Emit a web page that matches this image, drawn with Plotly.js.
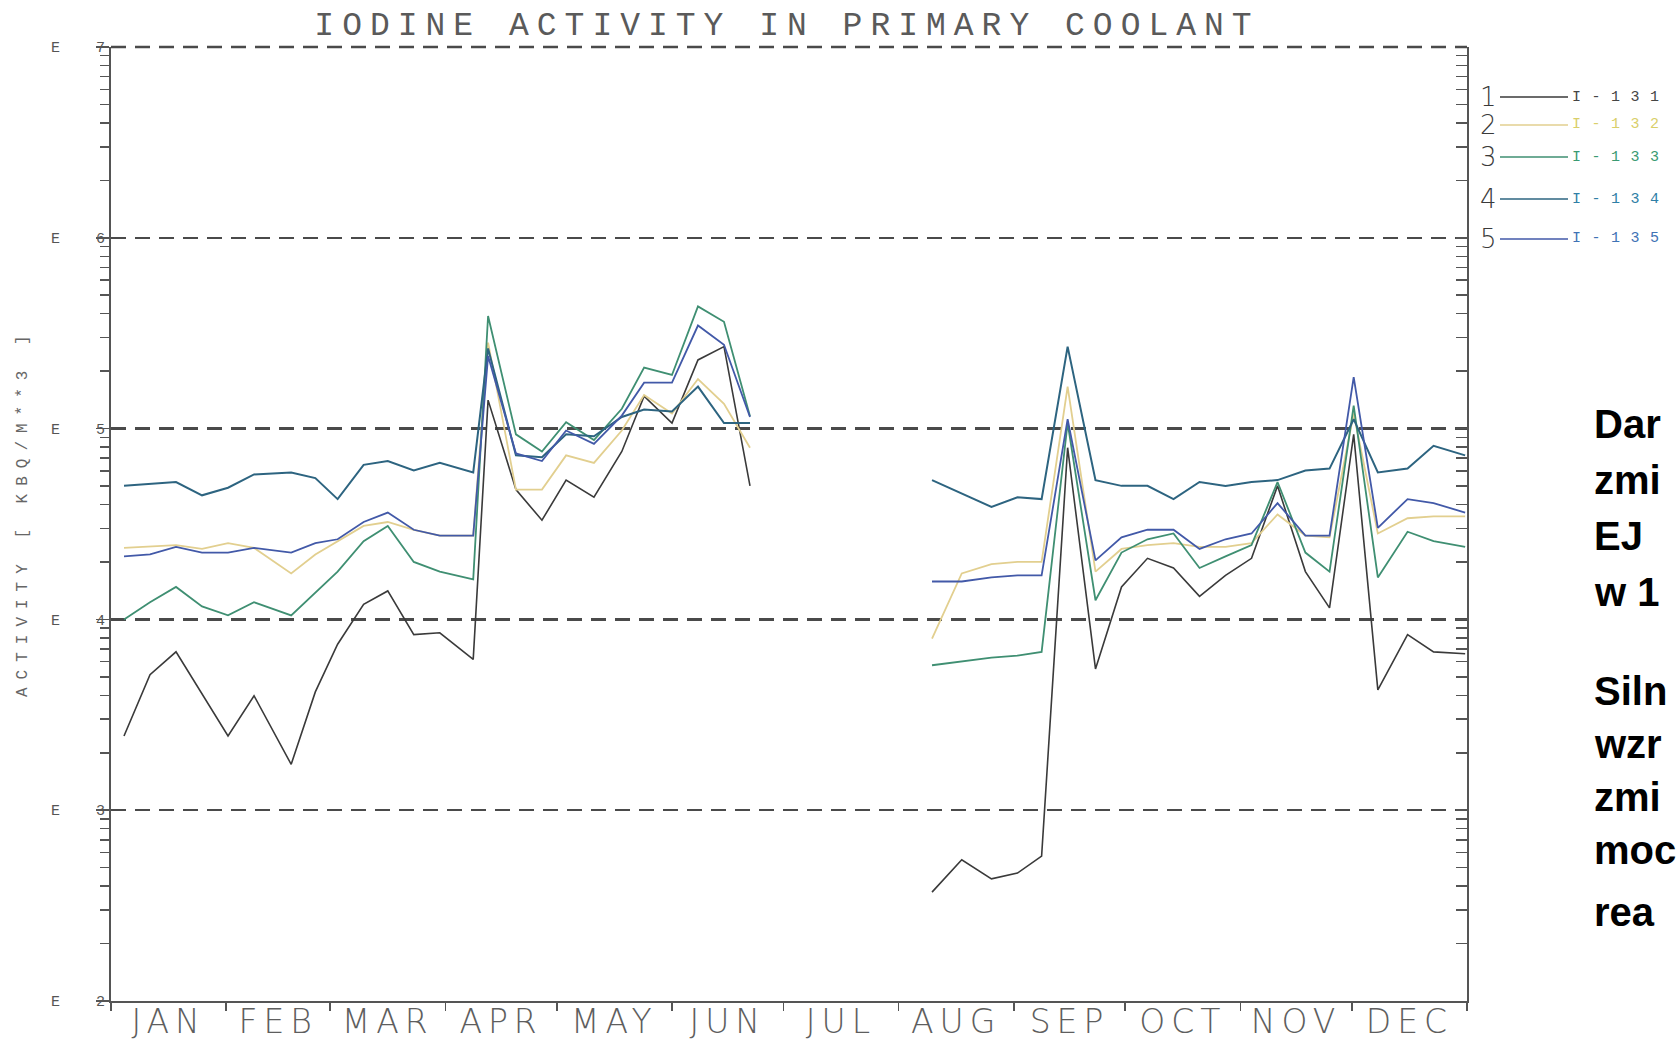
<!DOCTYPE html>
<html>
<head>
<meta charset="utf-8">
<script src="https://cdn.plot.ly/plotly-3.0.1.min.js"></script>
<style>
  html, body { margin: 0; padding: 0; background: #fff; }
  #chart { width: 1679px; height: 1041px; }
  .gtitle { letter-spacing: 8px; }
  .x2tick text { letter-spacing: 6px; }
  .annotation[data-index="0"] text { letter-spacing: 8px; }
  .annotation[data-index="1"] text,
  .annotation[data-index="2"] text,
  .annotation[data-index="3"] text,
  .annotation[data-index="4"] text,
  .annotation[data-index="5"] text { letter-spacing: 10.5px; }
</style>
</head>
<body>
<div id="chart"></div>
<script>
// Sampling days (day of year) for the two measurement campaigns
const daysFirstHalf  = [3.5, 10.5, 17.5, 24.5, 31.5, 38.5, 48.5, 55, 61, 68, 74.5, 81.5, 88.5,
                        97.5, 101.5, 109, 116, 122.5, 130, 137.5, 143.5, 151, 158, 165, 172];
const daysSecondHalf = [221, 229, 237, 244, 250.5, 257.5, 265, 272, 279, 286, 293, 300, 307,
                        314, 321.5, 328, 334.5, 341, 349, 356, 364.5];

// Activity in kBq/m3
const i131First  = [2450, 5130, 6760, 4070, 2450, 3980, 1740, 4170, 7410, 12000, 14100, 8320, 8510,
                    6170, 141000, 47900, 33100, 53700, 43700, 75900, 148000, 107000, 229000, 269000, 50100];
const i131Second = [372, 550, 437, 468, 575, 79400, 5500, 14800, 20900, 18600, 13200, 17000, 20900,
                    50100, 17800, 11500, 93300, 4270, 8320, 6760, 6610];

const i132First  = [23700, 24000, 24500, 23400, 25100, 23700, 17400, 21900, 25700, 30900, 32400, 29500, 27500,
                    27500, 282000, 47900, 47900, 72400, 66100, 97700, 150000, 120000, 182000, 135000, 79400];
const i132Second = [7940, 17400, 19500, 20000, 20000, 166000, 17800, 23400, 24500, 25100, 24000, 24000, 25100,
                    35500, 27500, 26900, 120000, 28200, 33900, 34700, 34700];

const i133First  = [10000, 12300, 14800, 11700, 10500, 12300, 10500, 13800, 17800, 25700, 30900, 20000, 17800,
                    16200, 389000, 93300, 75900, 108000, 87100, 127000, 209000, 191000, 437000, 363000, 116000];
const i133Second = [5750, 6030, 6310, 6460, 6760, 107000, 12600, 22400, 26300, 28200, 18600, 21400, 24500,
                    52500, 22400, 17800, 132000, 16600, 28800, 25700, 24000];

const i134First  = [50100, 51300, 52500, 44700, 49000, 57500, 58900, 55000, 42700, 64600, 67600, 60300, 66100,
                    58900, 263000, 72400, 70800, 93300, 91200, 115000, 126000, 123000, 166000, 107000, 107000];
const i134Second = [53700, 45700, 38900, 43700, 42700, 269000, 53700, 50100, 50100, 42700, 52500, 50100, 52500,
                    53700, 60300, 61700, 112000, 58900, 61700, 81300, 72400];

const i135First  = [21400, 21900, 24000, 22400, 22400, 23700, 22400, 25100, 26300, 32400, 36300, 29500, 27500,
                    27500, 240000, 74100, 67600, 97700, 83200, 117000, 174000, 174000, 347000, 275000, 115000];
const i135Second = [15800, 15800, 16600, 17000, 17000, 112000, 20400, 26900, 29500, 29500, 23400, 26300, 28200,
                    40700, 27500, 27500, 186000, 30200, 42700, 40700, 36300];

const isotopes = ['I-131', 'I-132', 'I-133', 'I-134', 'I-135'];
const legendNumbers = ['1', '2', '3', '4', '5'];

// Axis ticks
const monthStarts = [0, 31, 59, 90, 120, 151, 181, 212, 243, 273, 304, 334, 365];
const monthLabels = ['JAN', 'FEB', 'MAR', 'APR', 'MAY', 'JUN', 'JUL', 'AUG', 'SEP', 'OCT', 'NOV', 'DEC'];
const decadeExponents = [2, 3, 4, 5, 6, 7];

// Text block beside the chart
const noteLines = ['Dar', 'zmi', 'EJ', 'w 1', 'Siln', 'wzr', 'zmi', 'moc', 'rea'];

// ---- styling ----
const lineColors  = ['#3a3a3a', '#e2cf8f', '#3f8f72', '#2d6480', '#4259a8'];
const labelColors = ['#454545', '#d9cf6a', '#3a9a72', '#2f7fa6', '#3f73b5'];
const lineWidths  = [1.6, 1.8, 1.8, 2.0, 1.8];

const PLOT = { left: 111, right: 1467, top: 47, bottom: 1001 };
const paperX = px => (px - PLOT.left) / (PLOT.right - PLOT.left);
const paperY = py => (PLOT.bottom - py) / (PLOT.bottom - PLOT.top);

const seriesFirst  = [i131First, i132First, i133First, i134First, i135First];
const seriesSecond = [i131Second, i132Second, i133Second, i134Second, i135Second];

const traces = isotopes.map((name, i) => ({
  type: 'scatter',
  mode: 'lines',
  name: name,
  x: daysFirstHalf.concat([null], daysSecondHalf),
  y: seriesFirst[i].concat([null], seriesSecond[i]),
  connectgaps: false,
  line: { color: lineColors[i], width: lineWidths[i] },
  xaxis: 'x', yaxis: 'y',
  hoverinfo: 'skip'
}));

const majorTicks = decadeExponents.map(e => Math.pow(10, e));
const majorText = decadeExponents.map(e => 'E\u00a0\u00a0\u00a0\u00a0' + e);
const minorTicks = [];
decadeExponents.slice(0, -1).forEach(e => {
  for (let k = 2; k <= 9; k++) minorTicks.push(k * Math.pow(10, e));
});
const monthMids = monthLabels.map((m, i) => (monthStarts[i] + monthStarts[i + 1]) / 2);

const axisGrey = '#555';
const gridDash = '15px,9px';

// Legend: number, sample line, isotope name
const legendRows = [97, 125, 157, 199, 239];
const shapes = legendRows.map((py, i) => ({
  type: 'line', xref: 'paper', yref: 'paper',
  x0: paperX(1500), x1: paperX(1568), y0: paperY(py), y1: paperY(py),
  line: { color: lineColors[i], width: 1.6 }
}));
// dashed top border (the top decade line)
shapes.push({
  type: 'line', xref: 'paper', yref: 'paper', x0: 0, x1: 1, y0: 1, y1: 1,
  line: { color: '#4a4a4a', width: 2.5, dash: gridDash }
});

const annotations = [];
annotations.push({
  text: 'ACTIVITY [ KBQ/M**3 ]', textangle: -90,
  xref: 'paper', yref: 'paper', x: paperX(23), y: paperY(512),
  xanchor: 'center', yanchor: 'middle', showarrow: false,
  font: { family: 'Liberation Mono, DejaVu Sans Mono, monospace', size: 16, color: '#666' }
});
isotopes.forEach((name, i) => annotations.push({
  text: name, xref: 'paper', yref: 'paper',
  x: paperX(1570), y: paperY(legendRows[i]),
  xanchor: 'left', yanchor: 'middle', align: 'left', showarrow: false,
  font: { family: 'Liberation Mono, DejaVu Sans Mono, monospace', size: 15, color: labelColors[i] }
}));
legendNumbers.forEach((n, i) => annotations.push({
  text: n, xref: 'paper', yref: 'paper',
  x: paperX(1488), y: paperY(legendRows[i]),
  xanchor: 'center', yanchor: 'middle', showarrow: false,
  font: { family: 'DejaVu Sans, sans-serif', size: 26, color: '#3a3a3a', weight: 300 }
}));
const noteBaselines = [438, 494, 550, 606, 705, 758, 811, 864, 926];
noteLines.forEach((t, i) => annotations.push({
  text: t, xref: 'paper', yref: 'paper',
  x: paperX(1592), y: paperY(noteBaselines[i] - 14),
  xanchor: 'left', yanchor: 'middle', align: 'left', showarrow: false,
  font: { family: 'Liberation Sans, Arial, sans-serif', size: 40, color: '#000', weight: 700 }
}));

const layout = {
  width: 1679, height: 1041,
  margin: { l: PLOT.left, r: 1679 - PLOT.right, t: PLOT.top, b: 1041 - PLOT.bottom, pad: 0 },
  paper_bgcolor: '#fff', plot_bgcolor: '#fff',
  showlegend: false,
  title: {
    text: 'IODINE ACTIVITY IN PRIMARY COOLANT',
    xref: 'container', yref: 'container',
    x: 787 / 1679, y: 1 - 23 / 1041, xanchor: 'center', yanchor: 'middle',
    font: { family: 'Liberation Mono, DejaVu Sans Mono, monospace', size: 33, color: '#5a5a5a' }
  },
  xaxis: {
    type: 'linear', range: [0, 365], fixedrange: true,
    showgrid: false, zeroline: false,
    showline: true, linecolor: axisGrey, linewidth: 2,
    tickmode: 'array', tickvals: monthStarts, showticklabels: false,
    ticks: 'outside', ticklen: 8, tickwidth: 1.5, tickcolor: axisGrey
  },
  xaxis2: {
    overlaying: 'x', anchor: 'y', side: 'bottom',
    type: 'linear', range: [0, 365], fixedrange: true,
    showgrid: false, zeroline: false, showline: false,
    tickmode: 'array', tickvals: monthMids, ticktext: monthLabels,
    ticks: '', ticklabelstandoff: -2,
    tickfont: { family: 'DejaVu Sans, Lato, sans-serif', size: 33, color: '#5e5e5e', weight: 200 }
  },
  yaxis: {
    type: 'log', range: [2, 7], fixedrange: true,
    tickmode: 'array', tickvals: majorTicks, ticktext: majorText,
    ticks: 'outside', ticklen: 13, tickwidth: 1.5, tickcolor: axisGrey,
    ticklabelstandoff: -12,
    showline: true, linecolor: axisGrey, linewidth: 2,
    showgrid: true, gridcolor: '#4a4a4a', gridwidth: 2.5, griddash: gridDash,
    zeroline: false,
    tickfont: { family: 'Liberation Mono, DejaVu Sans Mono, monospace', size: 15, color: '#555' }
  },
  yaxis2: {
    overlaying: 'y', anchor: 'x', side: 'left',
    type: 'log', range: [2, 7], fixedrange: true,
    tickmode: 'array', tickvals: minorTicks, showticklabels: false,
    ticks: 'outside', ticklen: 10, tickwidth: 1.5, tickcolor: axisGrey,
    showline: false, showgrid: false, zeroline: false
  },
  yaxis3: {
    overlaying: 'y', anchor: 'x', side: 'right',
    type: 'log', range: [2, 7], fixedrange: true,
    tickmode: 'array', tickvals: majorTicks.concat(minorTicks), showticklabels: false,
    ticks: 'inside', ticklen: 11, tickwidth: 1.5, tickcolor: axisGrey,
    showline: true, linecolor: axisGrey, linewidth: 2,
    showgrid: false, zeroline: false
  },
  shapes: shapes,
  annotations: annotations
};

// empty companions so the overlay axes are laid out
traces.push({ type: 'scatter', x: [], y: [], xaxis: 'x2', yaxis: 'y', hoverinfo: 'skip' });
traces.push({ type: 'scatter', x: [], y: [], xaxis: 'x', yaxis: 'y2', hoverinfo: 'skip' });
traces.push({ type: 'scatter', x: [], y: [], xaxis: 'x', yaxis: 'y3', hoverinfo: 'skip' });

Plotly.newPlot('chart', traces, layout, { staticPlot: true, displayModeBar: false });
</script>
</body>
</html>
